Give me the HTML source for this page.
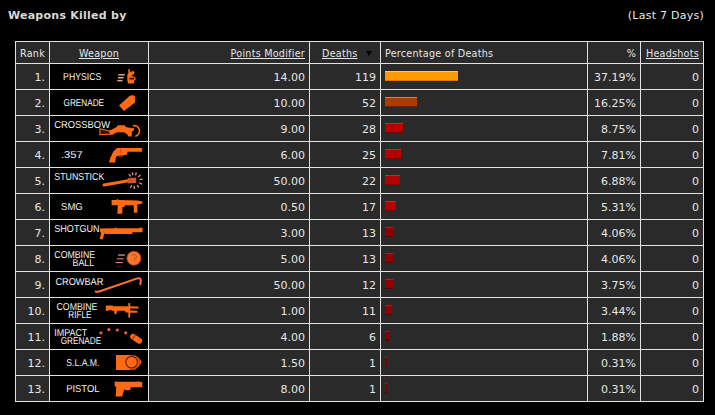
<!DOCTYPE html>
<html><head><meta charset="utf-8"><title>Weapons Killed by</title>
<style>
html,body{margin:0;padding:0;background:#000;}
body{width:715px;height:415px;overflow:hidden;position:relative;font-family:"DejaVu Sans","Liberation Sans",sans-serif;color:#e6e6e6;}
#title{position:absolute;left:8px;top:9px;font-size:11px;font-weight:bold;line-height:14px;white-space:nowrap;letter-spacing:0.25px;color:#d8d8d8;}
#range{position:absolute;right:11px;top:9px;font-size:11px;letter-spacing:0.25px;line-height:14px;white-space:nowrap;}
table{position:absolute;left:15px;top:41px;border-collapse:separate;border-spacing:1px;background:#e2e2e2;table-layout:fixed;width:689px;}
td{background:#2a2a2a;padding:7px 4px 0 4px;vertical-align:top;font-size:11px;line-height:13px;white-space:nowrap;overflow:hidden;height:25px;box-sizing:border-box;}
tr.h td{height:21px;font-size:9.6px;letter-spacing:0.25px;padding-top:5px;}
td.r{text-align:right;}
td.w{background:#000;position:relative;padding:0;}
.wi{position:absolute;left:0;top:0;display:block;}
.wi text{font-family:"Liberation Sans",sans-serif;font-size:10px;text-rendering:geometricPrecision;fill:#f4f4f4;}
u{text-decoration:underline;}
.bar{display:block;height:10px;}
.tri{position:absolute;left:56px;top:9px;width:0;height:0;border-left:3px solid transparent;border-right:3px solid transparent;border-top:5px solid #050505;}
</style></head><body>
<div id="title">Weapons Killed by</div>
<div id="range">(Last 7 Days)</div>
<table>
<colgroup><col style="width:33px"><col style="width:98px"><col style="width:160px"><col style="width:70px"><col style="width:206px"><col style="width:52px"><col style="width:62px"></colgroup>
<tr class="h"><td>Rank</td><td style="text-align:center"><u>Weapon</u></td><td class="r"><u>Points Modifier</u></td><td style="padding-left:12px;position:relative"><u>Deaths</u><span class="tri"></span></td><td>Percentage of Deaths</td><td class="r">%</td><td class="r"><u>Headshots</u></td></tr>
<tr><td class="r">1.</td><td class="w"><svg class="wi" width="98" height="25" viewBox="50 64 98 25"><g fill="#eeaa7c"><rect x="118.2" y="74.1" width="6.6" height="1.4"/><rect x="117.9" y="77" width="5.8" height="1.4"/><rect x="117.3" y="79.9" width="5.2" height="1.4"/></g><path fill="#ff6a12" d="M128,69.3 L129.6,69.3 L130.1,72 L133,71 L134.7,72 L134.3,73.6 L131.2,76.2 L134.6,76.7 L135.9,78.5 L135.4,80.1 L134.3,80.4 L134,83.4 L128,83.4 L127.3,80 L127.3,75 L128.5,72.5 Z"/><rect x="129.4" y="77.9" width="4.9" height="1.5" fill="#1a0500"/><text x="63.1" y="80" textLength="38.1" lengthAdjust="spacingAndGlyphs">PHYSICS</text></svg></td><td class="r">14.00</td><td class="r">119</td><td><span class="bar" style="width:73px;background:linear-gradient(#ffc94a 0 1px,#ff9900 1px 9px,#e07800 9px)"></span></td><td class="r">37.19%</td><td class="r">0</td></tr>
<tr><td class="r">2.</td><td class="w"><svg class="wi" width="98" height="25" viewBox="50 90 98 25"><polygon fill="#ff6a12" points="119,105.5 124,111 135,102.5 135,96.5 133,95 129.5,96"/><text x="63.5" y="106" textLength="40.6" lengthAdjust="spacingAndGlyphs">GRENADE</text></svg></td><td class="r">10.00</td><td class="r">52</td><td><span class="bar" style="width:32px;background:linear-gradient(#d8844c 0 1px,#aa3c00 1px 9px,#7c1c00 9px)"></span></td><td class="r">16.25%</td><td class="r">0</td></tr>
<tr><td class="r">3.</td><td class="w"><svg class="wi" width="98" height="25" viewBox="50 116 98 25"><polygon fill="#3a0e00" stroke="#ff6a12" stroke-width="1.1" points="99.9,128.8 109.2,130.9 112.6,134 99.9,134.6"/><polygon fill="#ff6a12" points="108.9,130.7 114,128.6 117.3,126.6 117.3,125.2 125,125.2 125.3,126.8 128,127.4 134,128.2 134,130.5 132,131.5 131.6,136.4 128.3,136.4 127,133.9 124,132.2 117.3,132.2 112.8,134.2 110,134.4"/><path fill="none" stroke="#ff6a12" stroke-width="1.7" d="M132.9,125.7 A5.4,5.4 0 1 1 135.3,136.3"/><text x="54.3" y="128" textLength="55.7" lengthAdjust="spacingAndGlyphs">CROSSBOW</text></svg></td><td class="r">9.00</td><td class="r">28</td><td><span class="bar" style="width:18px;background:linear-gradient(#c42828 0 1px,#b40000 1px 9px,#800000 9px)"></span></td><td class="r">8.75%</td><td class="r">0</td></tr>
<tr><td class="r">4.</td><td class="w"><svg class="wi" width="98" height="25" viewBox="50 142 98 25"><polygon fill="#ff6a12" points="113.2,151.7 115.6,149.3 117.1,148 142,148 142,151.7 127.4,151.7 127.2,154.4 124,155.3 119,155.7 116.1,156.6 115.2,162.4 108.9,162.4 110.5,157.5"/><path d="M118.6,155.8 Q120.5,158.6 123.6,155.4" stroke="#b04810" stroke-width="1" fill="none"/><rect x="120.2" y="148.6" width="0.8" height="4" fill="#b84a10"/><text x="61.0" y="158" textLength="21.7" lengthAdjust="spacingAndGlyphs">.357</text></svg></td><td class="r">6.00</td><td class="r">25</td><td><span class="bar" style="width:16px;background:linear-gradient(#c42828 0 1px,#b40000 1px 9px,#800000 9px)"></span></td><td class="r">7.81%</td><td class="r">0</td></tr>
<tr><td class="r">5.</td><td class="w"><svg class="wi" width="98" height="25" viewBox="50 168 98 25"><line x1="104" y1="185" x2="128.5" y2="180.8" stroke="#ff6a12" stroke-width="3" stroke-linecap="round"/><polygon fill="#d4552a" points="127.7,178.2 136.2,177.6 136.2,183 127.7,183.6"/><g stroke="#d49a8c" stroke-width="1.3"><line x1="130.82" y1="176.50" x2="128.79" y2="174.16"/><line x1="132.93" y1="175.38" x2="132.13" y2="172.39"/><line x1="135.58" y1="175.36" x2="136.33" y2="172.35"/><line x1="138.24" y1="176.95" x2="140.54" y2="174.88"/><line x1="139.53" y1="179.67" x2="142.60" y2="179.19"/><line x1="139.10" y1="182.74" x2="141.91" y2="184.05"/><line x1="137.11" y1="184.99" x2="138.75" y2="187.62"/><line x1="134.30" y1="185.80" x2="134.30" y2="188.90"/><line x1="131.81" y1="185.18" x2="130.36" y2="187.92"/></g><text x="54.3" y="180" textLength="50.0" lengthAdjust="spacingAndGlyphs">STUNSTICK</text></svg></td><td class="r">50.00</td><td class="r">22</td><td><span class="bar" style="width:15px;background:linear-gradient(#c42828 0 1px,#b40000 1px 9px,#800000 9px)"></span></td><td class="r">6.88%</td><td class="r">0</td></tr>
<tr><td class="r">6.</td><td class="w"><svg class="wi" width="98" height="25" viewBox="50 194 98 25"><polygon fill="#ff6a12" points="111.6,200 116.5,200 117.3,198.8 118.5,200 137,200.4 142.4,201.5 142.4,203.6 137.3,204.6 137.3,212.7 134,212.7 133.6,205.2 125,205.2 124,207 122.3,207 122.3,213.7 117.3,213.7 117.8,205.2 111.6,205.2"/><text x="61.1" y="210" textLength="21.6" lengthAdjust="spacingAndGlyphs">SMG</text></svg></td><td class="r">0.50</td><td class="r">17</td><td><span class="bar" style="width:11px;background:linear-gradient(#c42828 0 1px,#b40000 1px 9px,#800000 9px)"></span></td><td class="r">5.31%</td><td class="r">0</td></tr>
<tr><td class="r">7.</td><td class="w"><svg class="wi" width="98" height="25" viewBox="50 220 98 25"><polygon fill="#ff6a12" points="100,228.5 114.5,228.3 115.5,227.3 117,228.3 139.5,228.3 140,227.5 142.5,227.8 142.5,232.3 132.4,232.3 132.4,234 105,234 104.5,233 102.8,239.3 99.8,239.3 101,233 100,231"/><text x="54.3" y="232" textLength="45.2" lengthAdjust="spacingAndGlyphs">SHOTGUN</text></svg></td><td class="r">3.00</td><td class="r">13</td><td><span class="bar" style="width:8px;background:linear-gradient(#a82020 0 1px,#900000 1px 9px,#600000 9px)"></span></td><td class="r">4.06%</td><td class="r">0</td></tr>
<tr><td class="r">8.</td><td class="w"><svg class="wi" width="98" height="25" viewBox="50 246 98 25"><rect x="118.1" y="254.5" width="6.9" height="1.1" fill="#e7b89a"/><rect x="116.9" y="258.3" width="6.9" height="1.1" fill="#d77a78"/><rect x="115.6" y="262" width="7.2" height="1.1" fill="#e58a70"/><rect x="116" y="266" width="6.5" height="1.1" fill="#4a1010"/><circle cx="133.9" cy="258.3" r="7.0" fill="#f8762e" stroke="#b03c08" stroke-width="0.9"/><path d="M131.2,255.4 Q134,253.4 136.2,255.6 Q137.4,257.8 134.6,258.8 L134.2,261.6" stroke="#cc5416" stroke-width="1.1" fill="none"/><text x="54.3" y="258" textLength="40.9" lengthAdjust="spacingAndGlyphs">COMBINE</text><text x="72.5" y="266" textLength="21.6" lengthAdjust="spacingAndGlyphs">BALL</text></svg></td><td class="r">5.00</td><td class="r">13</td><td><span class="bar" style="width:8px;background:linear-gradient(#a82020 0 1px,#900000 1px 9px,#600000 9px)"></span></td><td class="r">4.06%</td><td class="r">0</td></tr>
<tr><td class="r">9.</td><td class="w"><svg class="wi" width="98" height="25" viewBox="50 272 98 25"><path fill="none" stroke="#ff7434" stroke-width="2" stroke-linecap="round" stroke-linejoin="round" d="M95.6,291.6 Q97.5,292.1 100,291.3 L136.6,278.6 Q140.8,277.1 140.8,280.8 L140.4,284.2"/><text x="55.4" y="285" textLength="48.0" lengthAdjust="spacingAndGlyphs">CROWBAR</text></svg></td><td class="r">50.00</td><td class="r">12</td><td><span class="bar" style="width:8px;background:linear-gradient(#a82020 0 1px,#900000 1px 9px,#600000 9px)"></span></td><td class="r">3.75%</td><td class="r">0</td></tr>
<tr><td class="r">10.</td><td class="w"><svg class="wi" width="98" height="25" viewBox="50 298 98 25"><polygon fill="#ff6a12" points="105.8,305.6 112,305.4 114,306.2 128.3,306.2 138.6,306.4 138.6,308.6 130.2,308.6 130.2,310.6 137.3,310.8 137.3,312.8 130.2,312.8 130.2,317.6 128.3,317.6 128.3,312.4 125.5,312.4 125,310.8 117,310.8 116.4,314.2 114.6,314.2 114.2,311 110,310 107,311 105.8,310.8"/><rect x="128.3" y="303.1" width="1.9" height="3.4" fill="#ff6a12"/><text x="56.5" y="310" textLength="40.9" lengthAdjust="spacingAndGlyphs">COMBINE</text><text x="68.3" y="318" textLength="23.2" lengthAdjust="spacingAndGlyphs">RIFLE</text></svg></td><td class="r">1.00</td><td class="r">11</td><td><span class="bar" style="width:7px;background:linear-gradient(#a82020 0 1px,#900000 1px 9px,#600000 9px)"></span></td><td class="r">3.44%</td><td class="r">0</td></tr>
<tr><td class="r">11.</td><td class="w"><svg class="wi" width="98" height="25" viewBox="50 324 98 25"><g fill="#e2604e"><circle cx="100.9" cy="332.8" r="1.6"/><circle cx="108.9" cy="329.6" r="1.6"/><circle cx="117.3" cy="330" r="1.6"/><circle cx="125.7" cy="332.8" r="1.6"/></g><line x1="133" y1="336.6" x2="139.3" y2="340.9" stroke="#ff6a12" stroke-width="5.6" stroke-linecap="round"/><line x1="132.4" y1="339.4" x2="135.6" y2="334.8" stroke="#a02a00" stroke-width="1.1"/><text x="54.3" y="336" textLength="33.0" lengthAdjust="spacingAndGlyphs">IMPACT</text><text x="60.7" y="344" textLength="40.5" lengthAdjust="spacingAndGlyphs">GRENADE</text></svg></td><td class="r">4.00</td><td class="r">6</td><td><span class="bar" style="width:4px;background:linear-gradient(#902020 0 1px,#800000 1px 9px,#580000 9px)"></span></td><td class="r">1.88%</td><td class="r">0</td></tr>
<tr><td class="r">12.</td><td class="w"><svg class="wi" width="98" height="25" viewBox="50 350 98 25"><polygon fill="#d9540e" points="116,355 135,355.3 139,358 142,362.1 139,366.3 135,369.7 116,370"/><rect x="116" y="355" width="14" height="15" fill="#ff6a12"/><circle cx="131.6" cy="362.1" r="5.8" fill="#ff6a12" stroke="#7a1e00" stroke-width="1.2"/><text x="66.2" y="366" textLength="33.3" lengthAdjust="spacingAndGlyphs">S.L.A.M.</text></svg></td><td class="r">1.50</td><td class="r">1</td><td><span class="bar" style="width:2px;background:linear-gradient(#902020 0 1px,#800000 1px 9px,#580000 9px)"></span></td><td class="r">0.31%</td><td class="r">0</td></tr>
<tr><td class="r">13.</td><td class="w"><svg class="wi" width="98" height="25" viewBox="50 376 98 25"><polygon fill="#ff6a12" points="114.7,381.8 116,381.3 117,381.8 137,381.8 138.5,381.3 139.5,381.8 142.2,382 142.2,387.2 130.7,387.2 130.7,389.5 128.5,390.3 125.5,390.3 124.5,389 122,396.6 115.6,396.6 116.3,387.2 114.7,386"/><text x="66.2" y="392" textLength="33.3" lengthAdjust="spacingAndGlyphs">PISTOL</text></svg></td><td class="r">8.00</td><td class="r">1</td><td><span class="bar" style="width:2px;background:linear-gradient(#902020 0 1px,#800000 1px 9px,#580000 9px)"></span></td><td class="r">0.31%</td><td class="r">0</td></tr>
</table>
</body></html>
